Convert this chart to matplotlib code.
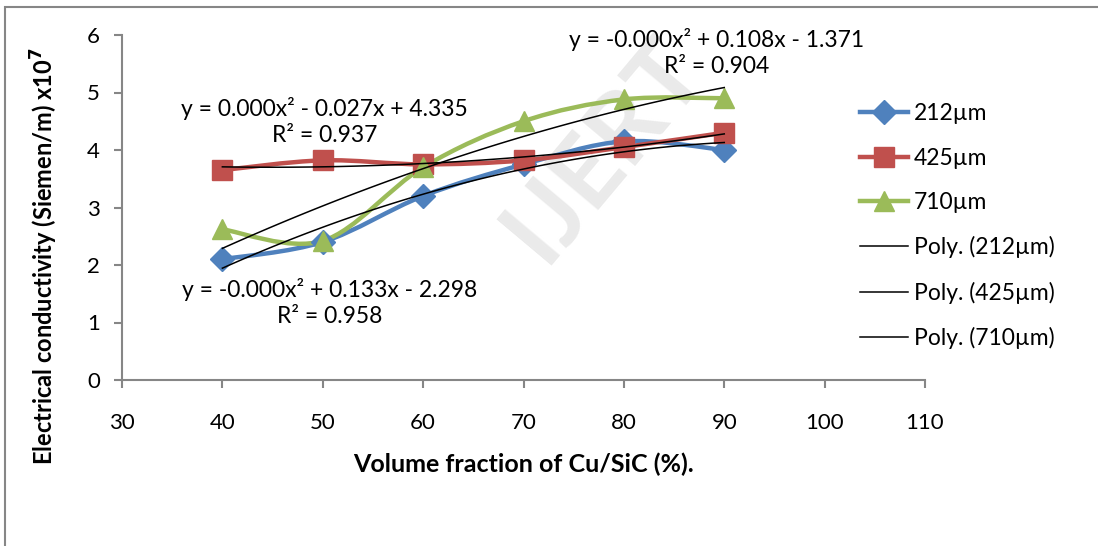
import numpy as np
import matplotlib
matplotlib.use("Agg")
import matplotlib.pyplot as plt
from matplotlib.path import Path
from matplotlib.patches import PathPatch, Rectangle
from matplotlib.lines import Line2D

# dados
volume = [40, 50, 60, 70, 80, 90]
cond_212 = [2.10, 2.40, 3.20, 3.75, 4.15, 4.00]
cond_425 = [3.65, 3.82, 3.75, 3.82, 4.05, 4.30]
cond_710 = [2.62, 2.42, 3.70, 4.50, 4.88, 4.90]

series_names = ["212µm", "425µm", "710µm"]
eq_labels = [
    "y = -0.000x² + 0.133x - 2.298\nR² = 0.958",
    "y = 0.000x² - 0.027x + 4.335\nR² = 0.937",
    "y = -0.000x² + 0.108x - 1.371\nR² = 0.904",
]

colors = ["#4F81BD", "#C0504D", "#9BBB59"]
markers = ["D", "s", "^"]
msizes = [12, 14, 14]

plt.rcParams["font.family"] = ["Lato", "DejaVu Sans"]


def smooth_path(x, y):
    # curva suavizada tipo Excel (Catmull-Rom -> Bezier)
    pts = np.column_stack([x, y]).astype(float)
    ext = np.vstack([pts[0], pts, pts[-1]])
    verts = [pts[0]]
    codes = [Path.MOVETO]
    for i in range(1, len(ext) - 2):
        p0, p1, p2, p3 = ext[i - 1], ext[i], ext[i + 1], ext[i + 2]
        c1 = p1 + (p2 - p0) / 6.0
        c2 = p2 - (p3 - p1) / 6.0
        verts += [c1, c2, p2]
        codes += [Path.CURVE4] * 3
    return Path(verts, codes)


fig = plt.figure(figsize=(10.98, 5.46), dpi=100)
ax = fig.add_axes([122 / 1098, 1 - 380 / 546, (925 - 122) / 1098, (380 - 35) / 546])

# borda do grafico
fig.patches.append(Rectangle((5 / 1098, -0.2), 1.5, 1.2 - 7 / 546,
                             transform=fig.transFigure, fill=False,
                             edgecolor="#868686", lw=1.5))

all_series = [cond_212, cond_425, cond_710]
handles = []
for vals, name, c, m, ms in zip(all_series, series_names, colors, markers, msizes):
    patch = PathPatch(smooth_path(volume, vals), fill=False, edgecolor=c, lw=3.2,
                      zorder=3, capstyle="round", joinstyle="round")
    ax.add_patch(patch)
    ax.plot(volume, vals, linestyle="none", marker=m, markersize=ms,
            color=c, zorder=4)
    handles.append(Line2D([], [], color=c, lw=3.2, marker=m, markersize=ms))

# linhas de tendencia polinomiais (ordem 2)
xs = np.linspace(volume[0], volume[-1], 100)
for vals, name in zip(all_series, series_names):
    coef = np.polyfit(volume, vals, 2)
    ax.plot(xs, np.polyval(coef, xs), color="black", lw=1.1, zorder=5)
    handles.append(Line2D([], [], color="black", lw=1.1))

labels = series_names + ["Poly. (%s)" % n for n in series_names]
leg = fig.legend(handles, labels, loc="upper left", bbox_to_anchor=(851 / 1098, 1 - 94 / 546),
                 frameon=False, fontsize=16.5, handlelength=2.1, labelspacing=1.02,
                 handletextpad=0.25, borderaxespad=0)

# equacoes
eq_pos = [(50.7, 1.35), (50.2, 4.50), (89.2, 5.69)]
for txt, (ex, ey) in zip(eq_labels, eq_pos):
    ax.text(ex, ey, txt, ha="center", va="center", fontsize=16.5,
            linespacing=1.3, zorder=6)

# marca d'agua
ax.text(78.0, 4.0, "IJERT", rotation=50, fontsize=72, fontweight="bold",
        color="#dddddd", alpha=0.6, ha="center", va="center", zorder=1)

ax.set_xlim(30, 110)
ax.set_ylim(0, 6)
ax.set_xticks(range(30, 111, 10))
ax.set_yticks(range(0, 7))
for s in ["top", "right"]:
    ax.spines[s].set_visible(False)
for s in ["left", "bottom"]:
    ax.spines[s].set_color("#868686")
    ax.spines[s].set_linewidth(1.5)
ax.tick_params(colors="#868686", labelcolor="black", labelsize=16, length=6, width=1.5)
ax.tick_params(axis="x", pad=18)
ax.tick_params(axis="y", pad=10)

ax.set_xlabel("Volume fraction of Cu/SiC (%).", fontsize=18, fontweight="bold", labelpad=14)
ax.set_ylabel(r"Electrical conductivity (Siemen/m) x10$^{\mathbf{7}}$", fontsize=17,
              fontweight="bold")
ax.yaxis.set_label_coords(-0.077, 0.36)

fig.savefig("out.png", dpi=100)
